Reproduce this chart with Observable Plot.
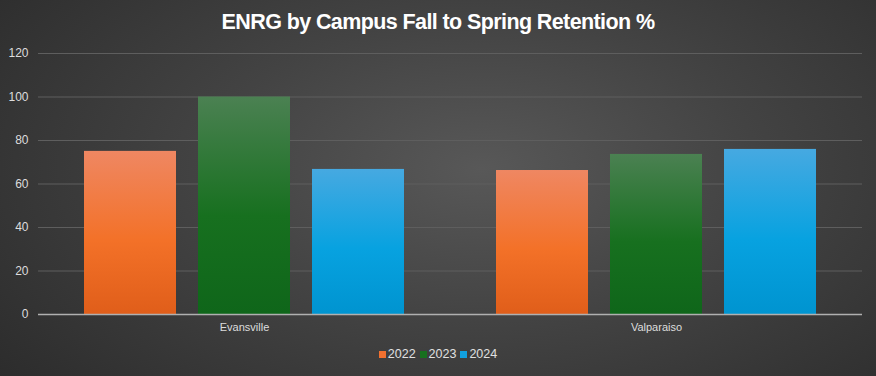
<!DOCTYPE html>
<html>
<head>
<meta charset="utf-8">
<script src="https://cdn.jsdelivr.net/npm/d3@7"></script>
<script src="https://cdn.jsdelivr.net/npm/@observablehq/plot@0.6"></script>
<style>
  html, body { margin: 0; padding: 0; }
  #chart {
    width: 876px; height: 376px; overflow: hidden; position: relative;
    background: radial-gradient(ellipse 70% 90% at 55% 45%, #585858 0%, #434343 45%, #2c2c2c 100%);
    font-family: "Liberation Sans", Arial, sans-serif;
  }
  #title {
    height: 44px; line-height: 44px; text-align: center; color: #fff;
    font-weight: bold; font-size: 21.5px; letter-spacing: -0.6px;
  }
  #legend {
    height: 20px; line-height: 20px; text-align: center; color: #e0e0e0; font-size: 12.5px;
  }
  #legend span.item { margin: 0 2px; }
  #legend span.sw { display: inline-block; width: 7px; height: 7px; margin-right: 2px; vertical-align: 0px; }
  svg { display: block; }
</style>
</head>
<body>
<div id="chart">
  <div id="title">ENRG by Campus Fall to Spring Retention %</div>
  <div id="plot"></div>
  <div id="legend"></div>
</div>
<script>
const campuses = ["Evansville", "Valparaiso"];
const years = ["2022", "2023", "2024"];
const values2022 = [75, 66.2];
const values2023 = [100, 73.6];
const values2024 = [66.7, 75.9];
const yTicks = [0, 20, 40, 60, 80, 100, 120];
const legendColors = ["#f07030", "#17701f", "#11a0e0"];

const seriesValues = {"2022": values2022, "2023": values2023, "2024": values2024};
const data = [];
campuses.forEach((c, i) => years.forEach(y => data.push({campus: c, year: y, value: seriesValues[y][i]})));

const chart = Plot.plot({
  width: 876,
  height: 300,
  marginTop: 9,
  marginBottom: 30,
  marginLeft: 38,
  marginRight: 14,
  style: {background: "transparent", color: "#dddddd", fontFamily: "Liberation Sans, Arial, sans-serif", fontSize: "12px"},
  fx: {domain: campuses, padding: 0, label: null},
  x: {domain: years, paddingInner: 0.193, paddingOuter: 0.4035, axis: null},
  y: {domain: [0, 120], ticks: yTicks, label: null},
  color: {type: "identity"},
  marks: [
    Plot.gridY(yTicks, {stroke: "#5e5e5e", strokeOpacity: 1, strokeWidth: 1}),
    Plot.axisY(yTicks, {tickSize: 0, tickPadding: 10, fill: "#dddddd", fontSize: 12, label: null}),
    Plot.axisFx({anchor: "bottom", tickSize: 0, tickPadding: 9, fill: "#dddddd", fontSize: 11, label: null}),
    Plot.barY(data, {fx: "campus", x: "year", y: "value", fill: d => `url(#grad${d.year})`}),
    Plot.ruleY([0], {stroke: "#b0b0b0", strokeWidth: 1.5})
  ]
});

const defs = d3.select(chart).insert("defs", ":first-child");
const gradStops = {
  "2022": ["#ef8762", "#f37128", "#e05e1a"],
  "2023": ["#4b8152", "#17701f", "#0f661a"],
  "2024": ["#46a9e1", "#07a2e0", "#0094d0"]
};
for (const y of years) {
  const g = defs.append("linearGradient").attr("id", "grad" + y)
    .attr("x1", 0).attr("y1", 0).attr("x2", 0).attr("y2", 1);
  g.append("stop").attr("offset", "0%").attr("stop-color", gradStops[y][0]);
  g.append("stop").attr("offset", "55%").attr("stop-color", gradStops[y][1]);
  g.append("stop").attr("offset", "100%").attr("stop-color", gradStops[y][2]);
}
document.getElementById("plot").appendChild(chart);

const legend = document.getElementById("legend");
years.forEach((y, i) => {
  const item = document.createElement("span");
  item.className = "item";
  const sw = document.createElement("span");
  sw.className = "sw";
  sw.style.background = legendColors[i];
  item.appendChild(sw);
  item.appendChild(document.createTextNode(y));
  legend.appendChild(item);
});
</script>
</body>
</html>
